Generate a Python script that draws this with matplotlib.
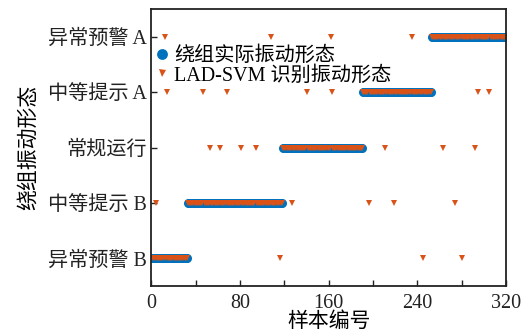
import numpy as np
import matplotlib
matplotlib.use('Agg')
import matplotlib.pyplot as plt
from matplotlib.ticker import MultipleLocator

plt.rcParams['font.family'] = ['Liberation Serif', 'Noto Sans CJK SC']
plt.rcParams['axes.unicode_minus'] = False

# 类别 (从下到上)
class_names = ['异常预警 B', '中等提示 B', '常规运行', '中等提示 A', '异常预警 A']
# 每类实际样本的最后编号
seg_end = [32, 118, 190, 252, 320]
# 识别错误的样本编号及识别结果
err_samples = [12, 108, 162, 235,
               14, 47, 68, 140, 163, 295, 305,
               53, 62, 81, 94, 211, 263, 292,
               4, 127, 196, 219, 274,
               116, 245, 280]
err_pred = [5, 5, 5, 5,
            4, 4, 4, 4, 4, 4, 4,
            3, 3, 3, 3, 3, 3, 3,
            2, 2, 2, 2, 2,
            1, 1, 1]

n = seg_end[-1]
samples = np.arange(1, n + 1)
actual = np.zeros(n, dtype=int)
start = 0
for k, e in enumerate(seg_end):
    actual[start:e] = k + 1
    start = e
pred = actual.copy()
for s, p in zip(err_samples, err_pred):
    pred[s - 1] = p

fig = plt.figure(figsize=(5.31, 3.36), dpi=100)
ax = fig.add_axes([0.285, 0.149, 0.668, 0.823])

ax.plot(samples, actual, 'o', color='#0072BD', markersize=6.5, markeredgewidth=0,
        label='绕组实际振动形态')
ax.plot(samples, pred, 'v', color='#D95319', markersize=4.2, markeredgewidth=0,
        label='LAD-SVM 识别振动形态')

ax.set_xlim(0, 320)
ax.set_ylim(0.5, 5.5)
ax.xaxis.set_major_locator(MultipleLocator(80))
ax.xaxis.set_minor_locator(MultipleLocator(40))
ax.set_yticks([1, 2, 3, 4, 5])
ax.set_yticklabels(class_names)
ax.tick_params(axis='both', which='both', direction='in', length=4, width=1,
               labelsize=14.5, colors='#222222')
ax.tick_params(axis='x', pad=6)
ax.tick_params(axis='y', labelsize=14.5, pad=3)
for sp in ax.spines.values():
    sp.set_linewidth(1.3)
    sp.set_color('#222222')

ax.set_xlabel('样本编号', fontsize=15, labelpad=-1)
ax.set_ylabel('绕组振动形态', fontsize=15, labelpad=7)

leg = ax.legend(loc='upper left', bbox_to_anchor=(-0.02, 0.91), frameon=False,
                fontsize=14.5, handlelength=0.6, handletextpad=0.3,
                labelspacing=0.0, borderaxespad=0.2, markerscale=1.2)

plt.savefig('out.png', dpi=100)
